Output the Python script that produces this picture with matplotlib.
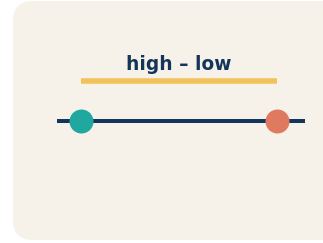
import matplotlib
matplotlib.use("Agg")
import matplotlib.pyplot as plt
from matplotlib.patches import FancyBboxPatch

labels = ["high – low"]
low_values = [20]
high_values = [100]
domain = [10.2, 111.4]

W, H, DPI = 323, 243, 100
fig = plt.figure(figsize=(W / DPI, H / DPI), dpi=DPI)
fig.patch.set_facecolor("white")

bg_ax = fig.add_axes([0, 0, 1, 1], zorder=-1)
bg_ax.set_xlim(0, W)
bg_ax.set_ylim(0, H)
bg_ax.axis("off")
bg_ax.add_patch(FancyBboxPatch((13, 3), 340, 239, boxstyle="round,pad=0,rounding_size=20",
                               facecolor="#f6f2ea", edgecolor="none"))

ax = fig.add_axes([57 / W, 0, (305 - 57) / W, 1])
ax.set_xlim(domain)
ax.set_ylim(H, 0)
ax.axis("off")
ax.patch.set_alpha(0)

px = 72 / DPI
ax.axhline(121, color="#13355a", linewidth=4 * px, solid_capstyle="butt", zorder=1)
ax.hlines(80.8, low_values[0], high_values[0], color="#f2c15a", linewidth=5.5 * px,
          capstyle="butt", zorder=1)
ax.scatter(low_values, [121], s=(24 * px) ** 2, color="#20a8a0", zorder=3, linewidths=0)
ax.scatter(high_values, [121], s=(24 * px) ** 2, color="#df7a60", zorder=3, linewidths=0)
ax.text((low_values[0] + high_values[0]) / 2, 70, labels[0], ha="center", va="baseline",
        fontsize=13.4, fontweight="bold", color="#13355a", family="DejaVu Sans")

fig.savefig("out.png", dpi=DPI)
